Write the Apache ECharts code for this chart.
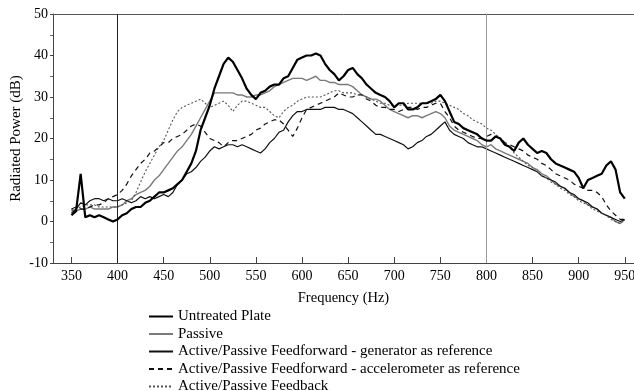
<!DOCTYPE html>
<html>
<head>
<meta charset="utf-8">
<script src="https://cdn.jsdelivr.net/npm/echarts@6/dist/echarts.min.js"></script>
<style>
  html, body { margin: 0; padding: 0; background: #fff; }
  #chart { width: 634px; height: 391px; }
</style>
</head>
<body>
<div id="chart"></div>
<script>
// frequency grid, 5 Hz steps (Hz)
var freq = [];
for (var f = 350; f <= 950; f += 5) freq.push(f);

var xTicks = [350, 400, 450, 500, 550, 600, 650, 700, 750, 800, 850, 900, 950];
var refLines = [400, 800];

var seriesNames = [
  "Untreated Plate",
  "Passive",
  "Active/Passive Feedforward - generator as reference",
  "Active/Passive Feedforward - accelerometer as reference",
  "Active/Passive Feedback"
];

// radiated power (dB)
var untreated = [
  1.5, 2.5, 11.5, 1, 1.5, 1, 1.5, 1, 0.5, 0, 0.5, 1.5, 2, 3, 3.5, 3.5, 4.5, 5, 6, 7,
  7, 7.5, 8, 9, 10, 12, 14, 17, 22, 25, 28, 32, 35, 38, 39.5, 38.5, 36.5, 34.5, 32, 30.5,
  29.5, 31, 31.5, 32.5, 33, 33, 34.5, 35, 37, 39, 39.5, 40, 40, 40.5, 40, 38, 36.5, 35.5, 34, 35,
  36.5, 37, 35.5, 34.5, 33, 32, 31, 30.5, 30, 29, 27.5, 28.5, 28.5, 27, 27, 27.5, 28.5, 28.5, 29, 29.5,
  30.5, 29, 26.5, 24, 23.5, 22.5, 22, 21.5, 21, 20, 19.5, 19.5, 20.5, 20, 18.5, 18, 17, 19, 20, 18.5,
  17.5, 16.5, 17, 16.5, 15, 14, 13.5, 13, 12.5, 12, 10.5, 8, 10, 10.5, 11, 11.5, 13.5, 14.5, 12.5, 7,
  5.5
];
var passive = [
  3, 2.5, 3, 3, 3.5, 3, 3, 3, 3, 3.5, 3.5, 4, 5, 5.5, 6.5, 7, 7.5, 8.5, 10, 11,
  12.5, 14, 15.5, 17, 18, 19.5, 21, 23, 25, 27, 29, 31, 31, 31, 31, 31, 30.5, 30.5, 30, 30,
  30.5, 30.5, 31, 31.5, 32.5, 33, 33.5, 34, 34.5, 34.5, 34.5, 34, 34.5, 35, 34, 34, 33.5, 33.5, 33, 33,
  33, 32.5, 31.5, 30.5, 30, 29.5, 29.5, 29, 28, 27, 26.5, 26, 25.5, 25, 25.5, 25.5, 25, 25.5, 26, 26.5,
  26, 25, 23, 22, 21.5, 21, 20.5, 20, 19.5, 18.5, 18, 18.5, 17.5, 17, 16.5, 16, 15.5, 15, 14.5, 14,
  13, 12.5, 11.5, 11, 10, 9, 8.5, 8, 7, 6, 5.5, 5, 4, 3.5, 3, 2, 1.5, 1, 0, -0.5,
  0.5
];
var generatorRef = [
  2, 3, 4.5, 4, 5, 5.5, 5.5, 5, 5.5, 5, 5, 5.5, 5, 4.5, 5, 6, 5.5, 6, 5.5, 6,
  6.5, 6, 7, 9, 10, 11.5, 12, 13, 14.5, 15.5, 17, 18, 17.5, 18, 18.5, 18.5, 18, 18.5, 18, 17.5,
  17, 16.5, 17.5, 19, 20, 21.5, 22, 24, 25.5, 26.5, 26.5, 27, 27, 27, 27, 27.5, 27.5, 27.5, 27, 27,
  26.5, 26, 25, 24, 23, 22, 21, 21, 20.5, 20, 19.5, 19, 18.5, 17.5, 18, 19, 19.5, 20.5, 21, 22,
  23, 24, 22, 21, 20.5, 20, 19, 18.5, 18, 18, 17.5, 17, 16.5, 16, 15.5, 15, 14.5, 14, 13.5, 13,
  12.5, 12, 11, 10.5, 10, 9.5, 8.5, 8, 7, 6.5, 5.5, 5, 4.5, 3.5, 3, 2, 1.5, 1, 0.5, 0,
  0.5
];
var accelRef = [
  3, 3.5, 3, 3, 3.5, 4, 4, 4.5, 5.5, 6, 6.5, 7.5, 9, 11, 12.5, 14, 15, 16.5, 17, 18,
  19, 19, 20, 20.5, 21, 22, 23, 23.5, 23, 21.5, 20, 19.5, 19, 18, 19, 19.5, 19.5, 20, 20.5, 21,
  22, 22.5, 23.5, 24, 24.5, 24.5, 23.5, 22, 20.5, 22.5, 25, 27, 27.5, 28, 28.5, 29, 29.5, 30, 31, 30.5,
  30, 30, 30.5, 30.5, 29.5, 29, 28, 27.5, 27.5, 27, 27, 26.5, 27, 27.5, 27.5, 27, 27.5, 27.5, 28, 28.5,
  28.5, 26.5, 25, 23, 22, 21.5, 21, 20.5, 20, 20, 20.5, 21, 20.5, 20, 19, 18.5, 18, 17.5, 17, 16,
  15.5, 15, 14, 13.5, 12.5, 11.5, 11, 10.5, 10, 9, 8.5, 8, 7.5, 7.5, 7, 6, 4, 2.5, 1.5, 0.5,
  0.5
];
var feedback = [
  2.5, 3, 3.5, 4, 4, 4, 3.5, 3.5, 3.5, 3.5, 3.5, 4, 4.5, 5, 7, 9.5, 12, 14, 16, 18,
  19.5, 22, 24.5, 26.5, 27.5, 28, 28.5, 29, 29.5, 28.5, 27.5, 28, 28.5, 29, 28, 26.5, 28, 29, 29, 28.5,
  28, 27.5, 27.5, 26.5, 25.5, 25, 26.5, 27.5, 28, 29, 29.5, 30, 30, 30, 30, 30.5, 31, 31.5, 31.5, 31,
  31, 31, 30.5, 30.5, 30, 29.5, 29, 28.5, 28.5, 28, 28, 28, 28, 28.5, 28.5, 28.5, 28.5, 28.5, 28.5, 29,
  29, 28.5, 28, 27.5, 27, 26, 25.5, 24.5, 24, 23.5, 22.5, 22, 21, 20, 19, 18, 16.5, 15.5, 14.5, 13.5,
  13, 12, 11, 10.5, 9.5, 9, 8, 7.5, 6.5, 6, 5, 4.5, 4, 3, 2.5, 2, 1.5, 0.5, 0, -0.5,
  0.5
];

function pairs(vals) {
  return freq.map(function (f, i) { return [f, vals[i]]; });
}

var serif = "Liberation Serif, DejaVu Serif, serif";
var chart = echarts.init(document.getElementById("chart"));

var option = {
  animation: false,
  backgroundColor: "#fff",
  textStyle: { fontFamily: serif, color: "#000" },
  grid: { left: 53, right: 0, top: 14, bottom: 128, containLabel: false, outerBoundsMode: "none" },
  legend: {
    orient: "vertical",
    left: 148,
    top: 309,
    height: 100,
    padding: 0,
    itemWidth: 24,
    itemHeight: 14,
    itemGap: 2.5,
    itemStyle: { opacity: 0 },
    data: seriesNames,
    textStyle: { fontFamily: serif, fontSize: 15, lineHeight: 14, color: "#000" }
  },
  xAxis: [
    {
      type: "value",
      min: 330,
      max: 960,
      name: "Frequency (Hz)",
      nameLocation: "middle",
      nameGap: 28,
      nameMoveOverlap: false,
      nameTextStyle: { fontFamily: serif, fontSize: 14.5, color: "#000" },
      axisLine: { show: true, onZero: false, lineStyle: { color: "#444", width: 1 } },
      axisTick: { show: true, inside: true, length: 6, customValues: xTicks, lineStyle: { color: "#444" } },
      axisLabel: { customValues: xTicks, fontFamily: serif, fontSize: 14, color: "#000", margin: 6 },
      splitLine: { show: false }
    },
    {
      type: "value",
      position: "top",
      min: 330,
      max: 960,
      axisLine: { show: true, onZero: false, lineStyle: { color: "#555", width: 1 } },
      axisTick: { show: false },
      axisLabel: { show: false },
      splitLine: { show: false }
    }
  ],
  yAxis: {
    type: "value",
    min: -10,
    max: 50,
    interval: 10,
    name: "Radiated Power (dB)",
    nameLocation: "middle",
    nameGap: 29,
    nameMoveOverlap: false,
    nameTextStyle: { fontFamily: serif, fontSize: 15, color: "#000" },
    axisLine: { show: true, lineStyle: { color: "#444", width: 1 } },
    axisTick: { show: true, inside: false, length: 3, lineStyle: { color: "#444" } },
    minorTick: { show: true, splitNumber: 2, length: 3, lineStyle: { color: "#666" } },
    axisLabel: { fontFamily: serif, fontSize: 14, color: "#000", margin: 5 },
    splitLine: { show: false }
  },
  series: [
    {
      name: seriesNames[0],
      type: "line",
      symbol: "none",
      data: pairs(untreated),
      lineStyle: { color: "#000", width: 2.2 },
      itemStyle: { color: "#000" },
      z: 5,
      markLine: {
        silent: true,
        symbol: "none",
        label: { show: false },
        data: [
          { xAxis: refLines[0], lineStyle: { color: "#222", width: 1, type: "solid" } },
          { xAxis: refLines[1], lineStyle: { color: "#999", width: 1, type: "solid" } }
        ]
      }
    },
    {
      name: seriesNames[1],
      type: "line",
      symbol: "none",
      data: pairs(passive),
      lineStyle: { color: "#7a7a7a", width: 1.4 },
      itemStyle: { color: "#7a7a7a" }
    },
    {
      name: seriesNames[2],
      type: "line",
      symbol: "none",
      data: pairs(generatorRef),
      lineStyle: { color: "#111", width: 1.2 },
      itemStyle: { color: "#111" }
    },
    {
      name: seriesNames[3],
      type: "line",
      symbol: "none",
      data: pairs(accelRef),
      lineStyle: { color: "#111", width: 1.2, type: [5, 4] },
      itemStyle: { color: "#111" }
    },
    {
      name: seriesNames[4],
      type: "line",
      symbol: "none",
      data: pairs(feedback),
      lineStyle: { color: "#555", width: 1.1, type: [2, 2] },
      itemStyle: { color: "#555" }
    }
  ]
};

chart.setOption(option);
</script>
</body>
</html>
